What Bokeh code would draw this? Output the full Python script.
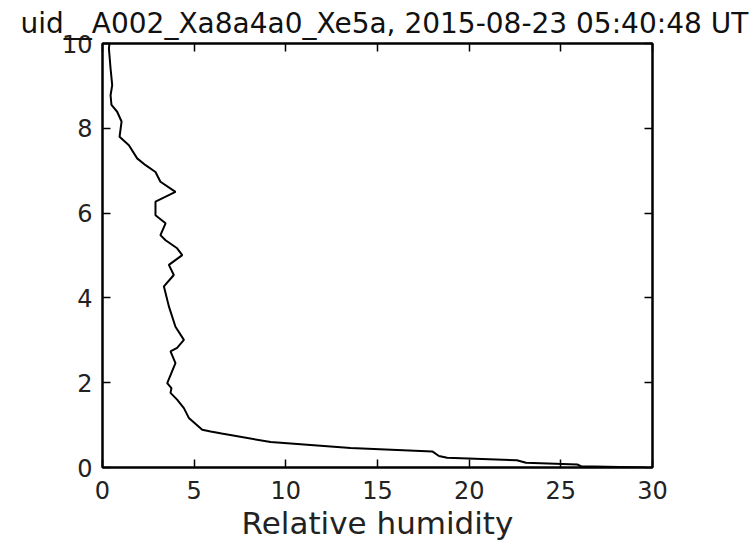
from bokeh.plotting import figure
from bokeh.models import Range1d, LinearAxis, FixedTicker
from bokeh.embed import file_html
from bokeh.resources import INLINE

# Data (relative humidity vs. height)
rel_humidity = [0.38, 0.35, 0.44, 0.53, 0.44, 0.49, 0.80, 1.04, 0.93, 1.44,
                1.89, 2.35, 2.89, 3.16, 3.98, 2.89, 2.89, 3.44, 3.16, 3.44,
                4.07, 4.35, 3.62, 3.89, 3.35, 3.62, 3.98, 4.44, 4.07, 3.71,
                3.98, 3.53, 3.76, 3.71, 4.07, 4.44, 4.71, 5.44, 5.90, 6.50,
                9.17, 13.53, 17.99, 18.35, 18.80, 22.60, 23.10, 25.90, 26.10, 29.60]
height = [10.00, 9.88, 9.41, 9.02, 8.78, 8.55, 8.39, 8.16, 7.80, 7.60,
          7.29, 7.13, 6.97, 6.74, 6.50, 6.27, 5.95, 5.76, 5.48, 5.36,
          5.17, 5.01, 4.78, 4.54, 4.27, 3.80, 3.32, 3.01, 2.82, 2.74,
          2.46, 1.99, 1.87, 1.76, 1.60, 1.40, 1.17, 0.89, 0.85, 0.80,
          0.60, 0.46, 0.38, 0.27, 0.23, 0.17, 0.11, 0.07, 0.03, 0.00]
x_ticks = [0, 5, 10, 15, 20, 25, 30]
y_ticks = [0, 2, 4, 6, 8, 10]
title_text = "uid__A002_Xa8a4a0_Xe5a, 2015-08-23 05:40:48 UT"
x_label_text = "Relative humidity"

FONT = "DejaVu Sans"

p = figure(width=756, height=543, output_backend="svg", toolbar_location=None,
           x_range=Range1d(0, 30), y_range=Range1d(0, 10),
           min_border_left=102, min_border_right=104,
           min_border_top=43, min_border_bottom=75)
p.background_fill_color = "white"
p.border_fill_color = "white"
p.outline_line_color = "black"
p.outline_line_width = 2
p.xgrid.visible = False
p.ygrid.visible = False

# Title, left-anchored with a negative offset so it starts near the page edge
p.title.text = title_text
p.title.align = "left"
p.title.offset = -82
p.title.standoff = 7
p.title.text_font = FONT
p.title.text_font_size = "28px"
p.title.text_font_style = "normal"
p.title.text_color = "#111111"

def style_axis(ax, ticks, show_labels=True, standoff=8):
    ax.ticker = FixedTicker(ticks=ticks)
    ax.major_tick_in = 8
    ax.major_tick_out = 0
    ax.minor_tick_in = 0
    ax.minor_tick_out = 0
    ax.major_tick_line_color = "black"
    ax.major_tick_line_width = 1.5
    ax.axis_line_color = "black"
    ax.axis_line_width = 2
    ax.major_label_text_font = FONT
    ax.major_label_text_color = "#222222"
    if show_labels:
        ax.major_label_text_font_size = "24px"
        ax.major_label_standoff = standoff
    else:
        ax.major_label_text_font_size = "1px"
        ax.major_label_text_alpha = 0
        ax.major_label_standoff = 0

style_axis(p.xaxis[0], x_ticks, True, 13)
style_axis(p.yaxis[0], y_ticks, True, 10)
p.xaxis[0].axis_label = x_label_text
p.xaxis[0].axis_label_text_font = FONT
p.xaxis[0].axis_label_text_font_size = "31px"
p.xaxis[0].axis_label_text_font_style = "normal"
p.xaxis[0].axis_label_text_color = "#222222"
p.xaxis[0].axis_label_standoff = 3

top_ax = LinearAxis()
style_axis(top_ax, x_ticks, False)
p.add_layout(top_ax, "above")
right_ax = LinearAxis()
style_axis(right_ax, y_ticks, False)
p.add_layout(right_ax, "right")

p.line(rel_humidity, height, line_color="black", line_width=2)

open("out.html", "w").write(file_html(p, INLINE))
